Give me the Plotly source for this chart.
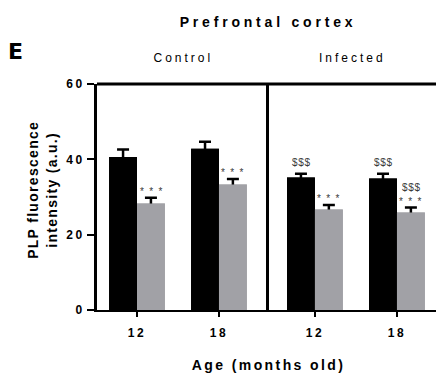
import json
import plotly.graph_objects as go
from plotly.subplots import make_subplots

# Ages (months old) shown on each panel
ages = ["12", "18"]

# PLP fluorescence (a.u.), mean and upper error
control_dark = [40.6, 42.8]
control_dark_err = [2.0, 1.9]
control_light = [28.3, 33.3]
control_light_err = [1.5, 1.5]

infected_dark = [35.2, 34.9]
infected_dark_err = [1.0, 1.3]
infected_light = [26.7, 25.9]
infected_light_err = [1.2, 1.3]

y_ticks = [0, 20, 40, 60]

DARK = "#000000"
LIGHT = "#a1a1a6"
MARK = "#3a3a3a"
FONT = "Liberation Sans, Arial, sans-serif"

fig = make_subplots(rows=1, cols=2, shared_yaxes=False, horizontal_spacing=0)


def bar(vals, errs, color, group, with_err):
    kw = dict(
        x=ages, y=vals, offsetgroup=group, showlegend=False,
        marker=dict(color=color, line=dict(width=0)),
    )
    if with_err:
        kw["error_y"] = dict(type="data", array=errs, symmetric=True,
                             color="black", thickness=2.5, width=6)
    else:
        kw["hoverinfo"] = "skip"
    return go.Bar(**kw)


# bars with error bars first, then the same bars again on top so only the
# upper half of each error bar shows above its bar
panels = [
    (1, control_dark, control_dark_err, control_light, control_light_err),
    (2, infected_dark, infected_dark_err, infected_light, infected_light_err),
]
for col, dv, de, lv, le in panels:
    fig.add_trace(bar(dv, de, DARK, "dark", True), row=1, col=col)
    fig.add_trace(bar(lv, le, LIGHT, "light", True), row=1, col=col)
    fig.add_trace(bar(dv, de, DARK, "dark", False), row=1, col=col)
    fig.add_trace(bar(lv, le, LIGHT, "light", False), row=1, col=col)

split = 0.507
axis_common = dict(
    type="category",
    showline=True, linecolor="black", linewidth=2, ticks="outside", ticklen=5, tickwidth=2,
    tickcolor="black", showgrid=False, zeroline=False,
    tickfont=dict(family=FONT, size=12, color="black", weight="bold"),
    ticklabelstandoff=6,
)
fig.update_xaxes(domain=[0, split], range=[-0.488, 1.609], row=1, col=1, **axis_common)
fig.update_xaxes(domain=[split, 1], range=[-0.561, 1.476], row=1, col=2, **axis_common)

fig.update_yaxes(
    range=[0, 60], tickvals=y_ticks, showline=True, linecolor="black", linewidth=3,
    ticks="outside", ticklen=7, tickwidth=2, tickcolor="black", showgrid=False, zeroline=False,
    tickfont=dict(family=FONT, size=12, color="black", weight="bold"), row=1, col=1,
)
fig.update_yaxes(
    range=[0, 60], showline=True, linecolor="black", linewidth=3, ticks="",
    showticklabels=False, showgrid=False, zeroline=False, row=1, col=2,
)

# panel frame top edge
fig.add_shape(type="line", xref="paper", yref="paper", x0=0, x1=1, y0=1, y1=1,
              line=dict(color="black", width=3))

annotations = []
spacing = []


def label(text, x, y, size, bold=True, ls=0.0, angle=0, family=FONT):
    annotations.append(dict(
        text=text, x=x, y=y, xref="paper", yref="paper", showarrow=False,
        xanchor="center", yanchor="middle", textangle=angle,
        font=dict(family=family, size=size, color="black", weight="bold" if bold else "normal"),
    ))
    spacing.append(ls)


def mark(text, xref, yref, x, y, shift_x, shift_y, ls):
    annotations.append(dict(
        text=text, x=x, y=y, xref=xref, yref=yref, showarrow=False,
        xanchor="center", yanchor="bottom", xshift=shift_x, yshift=shift_y,
        font=dict(family=FONT, size=10, color=MARK),
    ))
    spacing.append(ls)


label("Prefrontal cortex", 0.5044, 1.274, 14, ls=3.8)
label("E", -0.2404, 1.146, 22, ls=0, family="DejaVu Sans, sans-serif")
label("Control", 0.2552, 1.115, 12, bold=False, ls=3.0)
label("Infected", 0.755, 1.115, 12, bold=False, ls=3.0)
label("PLP fluorescence<br>intensity (a.u.)", -0.1608, 0.531, 14, ls=1.3, angle=-90)
label("Age (months old)", 0.5065, -0.2434, 14, ls=2.4)

STAR = "***"
DOLLAR = "&#36;&#36;&#36;"  # entity form keeps the "$" signs from being read as LaTeX
OFF = 14
# annotation x on a category axis is the category's serial number
for i in range(len(ages)):
    mark(STAR, "x", "y", i, control_light[i] + control_light_err[i], OFF + 2.5, -1, 5.4)
    mark(STAR, "x2", "y2", i, infected_light[i] + infected_light_err[i], OFF + 2.5, -1, 5.4)
    mark(DOLLAR, "x2", "y2", i, infected_dark[i] + infected_dark_err[i], -OFF + 0.3, 4, 0.6)
mark(DOLLAR, "x2", "y2", 1, infected_light[1] + infected_light_err[1], OFF + 0.3, 12.5, 0.6)

fig.update_layout(
    width=436, height=378, margin=dict(l=97, r=0, t=84, b=68),
    paper_bgcolor="white", plot_bgcolor="white",
    barmode="group", bargap=0.32, bargroupgap=0,
    annotations=annotations,
    font=dict(family=FONT, color="black"),
)

css = [
    ".xtick text,.x2tick text{letter-spacing:2.5px}",
    ".ytick text{letter-spacing:2.5px}",
]
for idx, ls in enumerate(spacing):
    if ls:
        css.append('g.annotation[data-index="%d"] text{letter-spacing:%.1fpx}' % (idx, ls))
post = ("var s=document.createElement('style');s.textContent=%s;"
        "document.head.appendChild(s);" % json.dumps("".join(css)))

fig.write_html("out.html", post_script=post)
